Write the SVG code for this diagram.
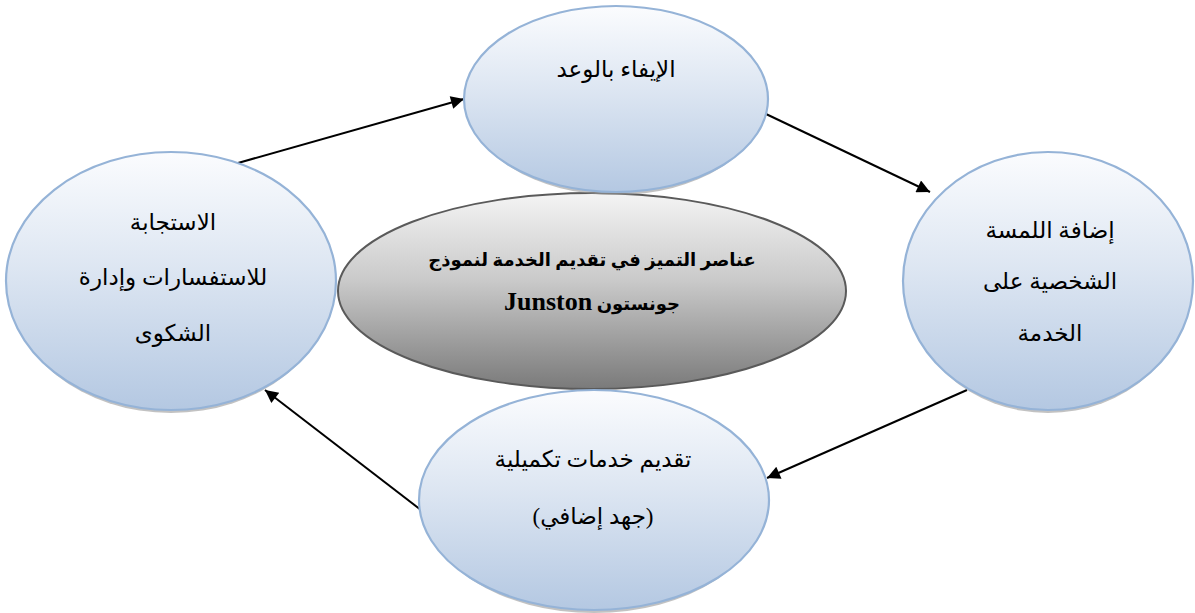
<svg xmlns="http://www.w3.org/2000/svg" width="1195" height="613" viewBox="0 0 1195 613">
<defs>
<linearGradient id="blue" x1="0" y1="0" x2="0" y2="1">
<stop offset="0" stop-color="#fbfcfe"/>
<stop offset="0.45" stop-color="#dde6f2"/>
<stop offset="1" stop-color="#b4c8e2"/>
</linearGradient>
<linearGradient id="gray" x1="0" y1="0" x2="0" y2="1">
<stop offset="0" stop-color="#f4f4f4"/>
<stop offset="0.45" stop-color="#c9c9c9"/>
<stop offset="1" stop-color="#7a7a7a"/>
</linearGradient>
<marker id="arr" viewBox="0 0 10 10" refX="10" refY="5" markerWidth="17" markerHeight="13" markerUnits="userSpaceOnUse" orient="auto">
<path d="M0,0 L10,5 L0,10 Z" fill="#000"/>
</marker>
<style>
.node{fill:url(#blue);stroke:#95b3d7;stroke-width:2.2}
.shadow{fill:#9a9a9a;stroke:none;opacity:0.6}
.center{fill:url(#gray);stroke:#5a5a5a;stroke-width:2}
.t{font-family:"Liberation Serif","DejaVu Sans",serif;font-size:23px;fill:#000;text-anchor:middle}
.tb{font-family:"Liberation Serif","DejaVu Sans",serif;font-size:18px;font-weight:bold;fill:#000;text-anchor:middle}
.en{font-size:26px}
.c{stroke:#000;stroke-width:2;fill:none;marker-end:url(#arr)}
</style>
</defs>
<rect width="1195" height="613" fill="#fff"/>
<g id="connectors">
<line class="c" x1="238" y1="163" x2="464" y2="99"/>
<line class="c" x1="766" y1="114" x2="930" y2="192"/>
<line class="c" x1="967" y1="390" x2="767" y2="478"/>
<line class="c" x1="421" y1="510" x2="265" y2="390"/>
</g>
<g id="node-center">
<ellipse class="center" cx="592" cy="291" rx="254" ry="98"/>
<text class="tb" x="592" y="266" direction="rtl">عناصر التميز في تقديم الخدمة لنموذج</text>
<text class="tb" x="592" y="310" direction="rtl">جونستون <tspan class="en">Junston</tspan></text>
</g>
<g id="node-top">
<ellipse class="shadow" cx="616" cy="102" rx="148" ry="93"/>
<ellipse class="node" cx="616" cy="99" rx="152" ry="93"/>
<text class="t" x="616" y="77" direction="rtl">الإيفاء بالوعد</text>
</g>
<g id="node-right">
<ellipse class="shadow" cx="1048" cy="284" rx="142" ry="129"/>
<ellipse class="node" cx="1048" cy="281" rx="145" ry="129"/>
<text class="t" x="1050" y="238" direction="rtl">إضافة اللمسة</text>
<text class="t" x="1050" y="289" direction="rtl">الشخصية على</text>
<text class="t" x="1050" y="341" direction="rtl">الخدمة</text>
</g>
<g id="node-bottom">
<ellipse class="shadow" cx="594" cy="503" rx="171" ry="110"/>
<ellipse class="node" cx="594" cy="500" rx="175" ry="110"/>
<text class="t" x="593" y="467" direction="rtl">تقديم خدمات تكميلية</text>
<text class="t" x="593" y="524" direction="rtl">(جهد إضافي)</text>
</g>
<g id="node-left">
<ellipse class="shadow" cx="171" cy="284" rx="162" ry="129"/>
<ellipse class="node" cx="171" cy="281" rx="165" ry="129"/>
<text class="t" x="173" y="230" direction="rtl">الاستجابة</text>
<text class="t" x="173" y="285" direction="rtl">للاستفسارات وإدارة</text>
<text class="t" x="173" y="341" direction="rtl">الشكوى</text>
</g>
</svg>
